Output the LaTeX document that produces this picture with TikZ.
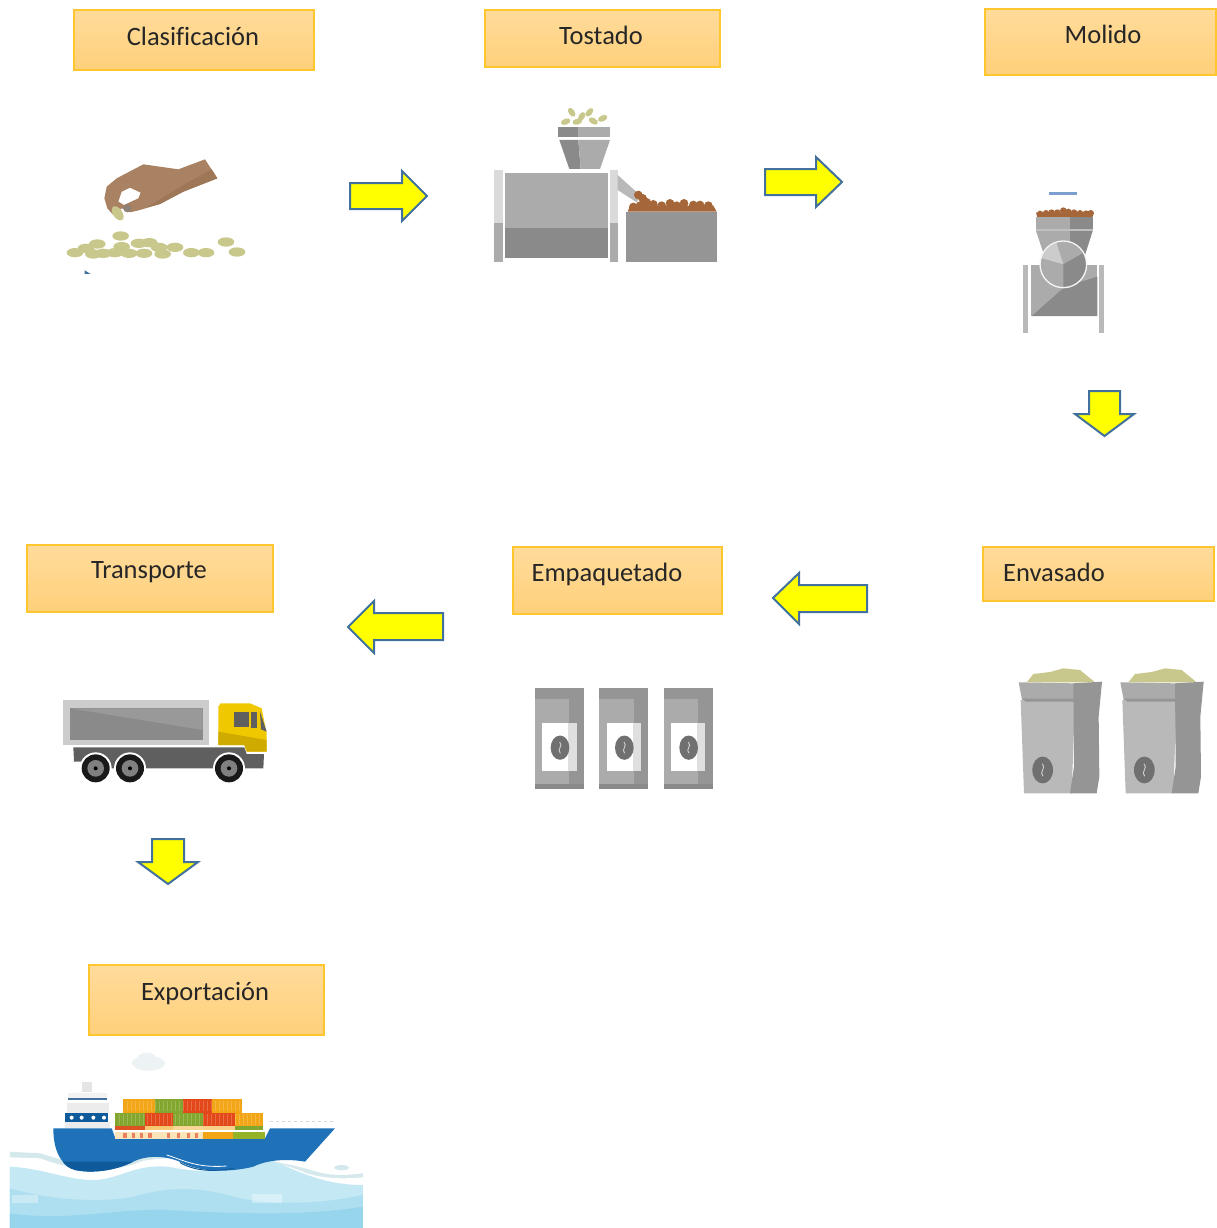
\documentclass[tikz,border=0pt]{standalone}
\usepackage{fontspec}
\setmainfont[Ligatures=NoCommon]{Carlito}
\usetikzlibrary{calc}
\definecolor{boxline}{HTML}{FFC62E}
\definecolor{boxtop}{HTML}{FFDB9B}
\definecolor{boxbot}{HTML}{FFD07A}
\definecolor{arrline}{HTML}{41719C}
\definecolor{arrfill}{RGB}{255,255,0}
\definecolor{gA}{HTML}{ABABAB}
\definecolor{gB}{HTML}{8A8A8A}
\definecolor{gC}{HTML}{DADADA}
\definecolor{gD}{HTML}{959595}
\definecolor{gE}{HTML}{707070}
\definecolor{gF}{HTML}{5F5F5F}
\definecolor{beanc}{HTML}{C9C88C}
\definecolor{roast}{HTML}{A5663A}
\definecolor{hand}{HTML}{A98263}
\definecolor{handd}{HTML}{9E7757}
\definecolor{hullc}{HTML}{1F72B8}
\definecolor{hulld}{HTML}{0F5A9A}
\definecolor{corg}{HTML}{F2A516}
\definecolor{cgrn}{HTML}{82A62E}
\definecolor{cred}{HTML}{E2481A}
\definecolor{seaA}{HTML}{C4E8F4}
\definecolor{seaB}{HTML}{ADDFF0}
\definecolor{seaC}{HTML}{96D5EC}
\definecolor{seaback}{HTML}{D5E8EC}
\definecolor{cloudc}{HTML}{EDF2F5}
\definecolor{linec}{HTML}{7BA0D0}
\definecolor{cabA}{HTML}{F0C800}
\definecolor{cabB}{HTML}{CFAB00}
\tikzset{
  stepbox/.style={draw=boxline,line width=1.6pt,top color=boxtop,bottom color=boxbot,inner sep=0pt,outer sep=0pt,anchor=north west},
  steplabel/.style={inner sep=0pt,text=black!85,font=\fontsize{26.5}{30}\selectfont},
  blockarrow/.style={draw=arrline,line width=2pt,fill=arrfill,miter limit=10},
  zoomed/.style={x=.33333pt,y=-.33333pt},
}
\newcommand{\boxnode}[5]{\node[stepbox,minimum width=#3 pt,minimum height=#4 pt] (#5) at (#1,#2) {};}
\newcommand{\coffeebean}[4]{%
  \fill[#4] (#1,#2) ellipse [x radius=#3,y radius=1.3*#3];
  \draw[gray!35,line width=.9pt] ($(#1,#2)+(-1,-.6*#3)$) .. controls ($(#1,#2)+(.4*#3,-.2*#3)$) and ($(#1,#2)+(-.4*#3,.2*#3)$) .. ($(#1,#2)+(1,.6*#3)$);}
\begin{document}
\begin{tikzpicture}[x=1pt,y=-1pt]
\useasboundingbox (0,0) rectangle (1216,1228);

% ---- step boxes
\boxnode{74}{10}{240}{60}{bClas}
\boxnode{485}{10}{235}{57}{bTost}
\boxnode{985}{9}{231}{66}{bMoli}
\boxnode{983}{547}{231}{54}{bEnva}
\boxnode{513}{547}{209}{67}{bEmpa}
\boxnode{27}{545}{246}{67}{bTran}
\boxnode{89}{965}{235}{70}{bExpo}
\node[steplabel] (tClas) at (193,36) {Clasificación};
\node[steplabel] (tTost) at (601,35.5) {Tostado};
\node[steplabel] (tMoli) at (1103,34) {Molido};
\node[steplabel] (tEnva) at (1054,572) {Envasado};
\node[steplabel] (tEmpa) at (607,574) {Empaquetado};
\node[steplabel] (tTran) at (149,572) {Transporte};
\node[steplabel] (tExpo) at (205,994) {Exportación};

% ---- block arrows
\draw[blockarrow] (350,183)--(402,183)--(402,171)--(427,196)--(402,221)--(402,209)--(350,209)--cycle;
\draw[blockarrow] (765,169)--(816,169)--(816,157)--(842,182)--(816,207)--(816,195)--(765,195)--cycle;
\draw[blockarrow] (1089,391)--(1120,391)--(1120,414)--(1134,414)--(1104.5,436)--(1075,414)--(1089,414)--cycle;
\draw[blockarrow] (867,585)--(799,585)--(799,573)--(773,598)--(799,624)--(799,612)--(867,612)--cycle;
\draw[blockarrow] (443,613)--(374,613)--(374,601)--(348,627)--(374,653)--(374,640)--(443,640)--cycle;
\draw[blockarrow] (152,839)--(184,839)--(184,862)--(198,862)--(168,884)--(138,862)--(152,862)--cycle;

% ---- hand and beans
\begin{scope}[shift={(50,130)},zoomed]
  \fill[hand,even odd rule] (465,88)--(502,145)--(400,185)--(330,222)--(270,240)--(240,247)--(215,235)--(190,255)--(172,235)--(163,205)--(170,170)--(200,145)--(280,103)--(385,118)--cycle
     (205,215)--(215,185)--(240,173)--(272,188)--(265,205)--(222,225)--cycle;
  \fill[handd] (502,145)--(400,185)--(330,222)--(290,232)--(400,165)--(485,118)--cycle;
  \fill[gray!70!hand] (232,235) circle (12);
  \fill[beanc,rotate around={-55:(203,250)}] (203,250) ellipse [x radius=24,y radius=14];
  \foreach \bx/\by in {75/368,108/355,142/342,130/372,160/370,195/368,215/350,212/318,237/370,267/340,282/370,298/338,327/352,338/372,375/352,424/368,468/368,528/336,561/366}
    \fill[beanc] (\bx,\by) ellipse [x radius=25,y radius=14];
  \fill[arrline] (104,421)--(122,432)--(104,432)--cycle;
\end{scope}

% ---- roaster
\begin{scope}[shift={(480,95)},zoomed]
  \foreach \bx/\by/\ba in {275/52/-55,328/52/50,305/65/60,368/70/25,340/78/-30,292/80/15,257/80/20}
    \fill[beanc,rotate around={\ba:(\bx,\by)}] (\bx,\by) ellipse [x radius=15,y radius=9];
  \fill[gB] (235,95) rectangle (293,127);
  \fill[gA] (293,95) rectangle (390,127);
  \fill[gB] (238,135)--(295,135)--(302,222)--(268,222)--cycle;
  \fill[gA] (295,135)--(390,135)--(360,222)--(302,222)--cycle;
  \fill[gA] (75,235) rectangle (385,400);
  \fill[gB] (75,400) rectangle (385,490);
  \fill[gC] (42,225) rectangle (68,385);
  \fill[gA] (42,385) rectangle (68,500);
  \fill[gC] (390,225) rectangle (413,385);
  \fill[gA] (390,385) rectangle (413,500);
  \fill[gray!55] (413,240)--(482,302)--(470,322)--(413,285)--cycle;
  \fill[gD] (438,350) rectangle (712,500);
  \fill[roast] (443,350)--(450,332)--(700,332)--(710,350)--cycle;
  \foreach \bx/\by in {475/300,488/310,500/322,460/336,480/332,520/328,545/332,570/325,590/332,612/325,640/330,660/330,685/332}
    \fill[roast] (\bx,\by) circle (13);
\end{scope}

% ---- grinder
\begin{scope}[shift={(1000,180)},zoomed]
  \fill[linec] (147,36) rectangle (230,45);
  \fill[roast] (112,112)--(278,112)--(278,98)--(108,98)--cycle;
  \foreach \bx/\by in {120/102,138/100,155/98,172/98,190/92,205/96,222/98,240/100,258/101,272/100}
    \fill[roast] (\bx,\by) circle (10);
  \fill[gA] (108,112) rectangle (210,148);
  \fill[gB] (210,112) rectangle (278,148);
  \fill[gray!50] (108,148) rectangle (278,153);
  \fill[gA] (108,153)--(210,153)--(210,225)--(132,225)--cycle;
  \fill[gB] (210,153)--(278,153)--(255,225)--(210,225)--cycle;
  \fill[gA] (92,255) rectangle (292,408);
  \fill[gB] (292,290)--(292,408)--(95,408)--(195,320)--cycle;
  \fill[gray!55] (70,255) rectangle (85,458);
  \fill[gray!55] (298,255) rectangle (313,458);
  \begin{scope}
    \clip (190,253) circle (68);
    \fill[gA] (100,160) rectangle (290,350);
    \fill[gB] (190,253)--(300,190)--(300,350)--(190,350)--cycle;
    \fill[gray!40] (190,253)--(110,230)--(100,160)--(160,160)--cycle;
  \end{scope}
  \draw[gray!8,line width=1.3pt] (190,253) circle (70);
\end{scope}

% ---- sacks
\begin{scope}[shift={(1000,650)},zoomed]
  \foreach \o in {0,305}{
   \begin{scope}[shift={(\o,0)}]
    \fill[beanc] (80,97)--(100,72)--(150,66)--(190,55)--(240,60)--(285,97)--cycle;
    \fill[gray!55] (62,150)--(225,152)--(215,430)--(72,430)--cycle;
    \fill[gA] (56,97)--(222,100)--(222,150)--(66,150)--cycle;
    \fill[gD] (66,146)--(222,146)--(222,155)--(78,155)--cycle;
    \fill[gD] (220,100)--(306,95)--(296,200)--(298,380)--(290,430)--(210,430)--(222,350)--cycle;
    \coffeebean{128}{360}{31}{gE}
   \end{scope}}
\end{scope}

% ---- coffee bags
\begin{scope}[shift={(520,675)},zoomed]
  \foreach \o in {0,193,386}{
   \begin{scope}[shift={(\o,0)}]
    \fill[gA] (45,40) rectangle (192,342);
    \fill[gD] (148,40) rectangle (192,342);
    \fill[gD] (45,40) rectangle (192,72);
    \fill[gB] (45,328) rectangle (192,342);
    \fill[white] (67,143) rectangle (145,288);
    \fill[gray!25] (145,143) rectangle (170,288);
    \coffeebean{120}{218}{28}{gE}
   \end{scope}}
\end{scope}

% ---- truck
\begin{scope}[shift={(50,690)},zoomed]
  \fill[gray!40] (38,30) rectangle (478,165);
  \fill[gB] (60,55) rectangle (458,150);
  \fill[gray!80] (60,55)--(458,55)--(458,120)--cycle;
  \fill[gF] (70,172)--(583,172)--(590,192)--(642,192)--(640,235)--(100,235)--(95,215)--(72,215)--cycle;
  \fill[cabA] (505,50)--(512,40)--(600,40)--(635,55)--(650,130)--(650,185)--(590,185)--(583,165)--(505,165)--cycle;
  \fill[cabB] (505,125)--(650,150)--(650,185)--(590,185)--(583,165)--(505,165)--cycle;
  \fill[gF] (552,65) rectangle (597,112);
  \fill[gF] (604,65) rectangle (620,115);
  \fill[gF] (630,65)--(650,125)--(633,118)--cycle;
  \foreach \wx in {137,240,537}{
    \fill[white] (\wx,235) circle (48);
    \fill[black!90] (\wx,235) circle (42);
    \fill[gray] (\wx,235) circle (25);
    \fill[black] (\wx,235) circle (6);
  }
\end{scope}

% ---- ship and sea
\begin{scope}[shift={(0,1040)},zoomed]
  \begin{scope}
    \clip (30,0) rectangle (1089,564);
    \fill[cloudc] (445,70) ellipse [x radius=50,y radius=22];
    \fill[cloudc] (440,55) ellipse [x radius=28,y radius=17];
    \fill[seaback] (30,335)--(120,340) .. controls (200,365) and (300,390) .. (420,350) .. controls (600,330) and (800,350) .. (950,395) .. controls (1000,410) and (1050,405) .. (1089,400)--(1089,564)--(30,564)--cycle;
    \fill[white] (30,352)--(120,355) .. controls (200,385) and (320,410) .. (430,362) .. controls (600,340) and (800,345) .. (920,400) .. controls (990,420) and (1050,415) .. (1089,412)--(1089,564)--(30,564)--cycle;
    \fill[seaA] (30,380) .. controls (130,385) and (200,420) .. (280,420) .. controls (360,420) and (420,360) .. (530,385) .. controls (620,400) and (720,395) .. (810,360) .. controls (880,385) and (960,435) .. (1089,435)--(1089,564)--(30,564)--cycle;
    \fill[seaB] (30,445) .. controls (150,480) and (300,490) .. (400,470) .. controls (500,440) and (600,440) .. (700,470) .. controls (800,495) and (950,495) .. (1089,465)--(1089,564)--(30,564)--cycle;
    \fill[seaC] (30,520) .. controls (200,545) and (350,505) .. (500,510) .. controls (700,520) and (900,530) .. (1089,500)--(1089,564)--(30,564)--cycle;
    \fill[white,opacity=.35] (35,465) rectangle (115,490);
    \fill[white,opacity=.35] (755,462) rectangle (845,490);
    \fill[seaback] (1025,383) ellipse [x radius=22,y radius=8];
  \end{scope}
  % superstructure
  \fill[gray!20] (245,125) rectangle (275,155);
  \fill[gray!10] (205,160) rectangle (320,178);
  \fill[arrline] (205,175) rectangle (320,181);
  \fill[gray!15] (200,190) rectangle (328,218);
  \fill[hulld] (195,218) rectangle (325,247);
  \foreach \wx in {215,245,280,312} \fill[white] (\wx,233) circle (6);
  \fill[gray!15] (195,247) rectangle (330,265);
  % hull
  \fill[hullc] (160,265)--(335,265)--(345,292)--(795,295)--(810,265)--(1005,265)--(915,365) .. controls (860,355) and (800,360) .. (760,380) .. controls (700,395) and (610,400) .. (550,370) .. controls (500,345) and (440,345) .. (400,365) .. controls (340,395) and (270,400) .. (225,390) .. controls (170,370) and (160,310) .. (160,265)--cycle;
  \fill[hulld] (188,365)--(400,365) .. controls (340,395) and (270,400) .. (225,390) .. controls (205,385) and (195,375) .. (188,365)--cycle;
  \draw[white,line width=.8pt] (500,345) .. controls (550,360) and (590,385) .. (680,378);
  \draw[hulld,line width=1pt] (540,368) .. controls (590,395) and (640,395) .. (700,385);
  % containers
  \foreach \ca/\cb/\cc/\cd/\ce in {370/465/178/218/corg,465/550/178/218/cgrn,550/635/178/218/cred,635/725/178/218/corg,345/435/218/258/cgrn,435/520/218/258/cred,520/610/218/258/cgrn,610/705/218/258/cred,705/790/218/258/corg,345/435/258/272/cred!80!brown,435/520/258/272/corg!60!white,520/610/258/272/corg!45!white,610/705/258/272/corg!50!white,705/790/258/272/cgrn,610/700/275/297/corg,700/795/275/297/cgrn!85!yellow,345/610/275/297/corg!30!white}
    \fill[\ce] (\ca,\cc) rectangle (\cb,\cd);
  \foreach \sx in {382,394,...,720} \draw[white,opacity=.2,line width=.9pt] (\sx,182)--(\sx,214);
  \foreach \sx in {358,370,...,785} \draw[white,opacity=.2,line width=.9pt] (\sx,222)--(\sx,254);
  \foreach \wx in {370,395,420,445,500,530,560,585}
    \fill[cred!70] (\wx,278) rectangle ++(10,17);
  \draw[white,line width=.8pt] (345,272)--(790,272);
  \draw[gray!30,dashed,line width=.6pt] (810,243)--(1005,243);
\end{scope}
\end{tikzpicture}
\end{document}
